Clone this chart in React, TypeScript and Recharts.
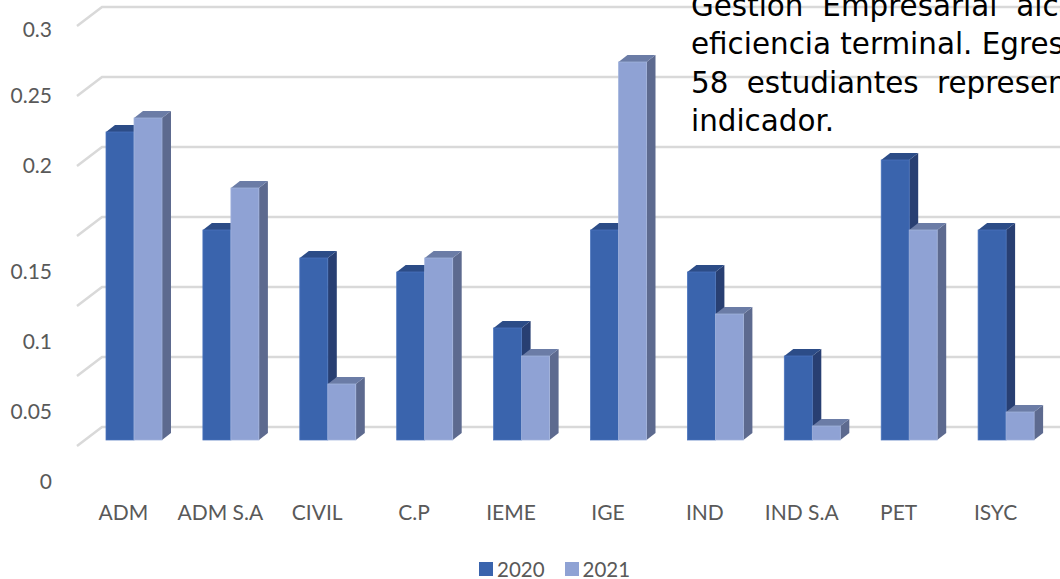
import React from "react";
import { BarChart, Bar, XAxis, YAxis, CartesianGrid, Legend } from "recharts";

const categories = ["ADM", "ADM S.A", "CIVIL", "C.P", "IEME", "IGE", "IND", "IND S.A", "PET", "ISYC"];
const values2020 = [0.22, 0.15, 0.13, 0.12, 0.08, 0.15, 0.12, 0.06, 0.2, 0.15];
const values2021 = [0.23, 0.18, 0.04, 0.13, 0.06, 0.27, 0.09, 0.01, 0.15, 0.02];
const yTicks = [0, 0.05, 0.1, 0.15, 0.2, 0.25, 0.3];
const paragraphLines = [
  "Gestión Empresarial alca",
  "eficiencia terminal. Egres",
  "58 estudiantes represen",
  "indicador.",
];

const chartData = categories.map((name, i) => ({ name, y2020: values2020[i], y2021: values2021[i] }));

const FONT = "Lato, sans-serif";
const LABEL = "#595959";
const DEPTH_X = 9;
const DEPTH_Y = 7;
const FRONT_SHIFT = 13;

const tone2020 = { front: "#3A64AD", side: "#283F72", top: "#2C4C87", edge: "#4A74BD" };
const tone2021 = { front: "#8FA2D4", side: "#5D6A8F", top: "#6B7CA6", edge: "#A3B4DD" };

const makeShape = (tone: { front: string; side: string; top: string; edge: string }) => (props: any) => {
  const { x, y, width, height } = props;
  if (!(height > 0)) return <g />;
  const t = y + FRONT_SHIFT;
  const b = t + height;
  const r = x + width;
  return (
    <g>
      <polygon points={`${r},${t} ${r + DEPTH_X},${t - DEPTH_Y} ${r + DEPTH_X},${b - DEPTH_Y} ${r},${b}`} fill={tone.side} />
      <polygon points={`${x},${t} ${x + DEPTH_X},${t - DEPTH_Y} ${r + DEPTH_X},${t - DEPTH_Y} ${r},${t}`} fill={tone.top} />
      <rect x={x} y={t} width={width} height={height} fill={tone.front} stroke={tone.edge} strokeWidth={0.75} />
    </g>
  );
};

const gridLine = (p: any) => (
  <polyline
    key={p.key}
    points={`77,${p.y1 + 19} 102,${p.y1} 1060,${p.y1}`}
    fill="none"
    stroke="#D9D9D9"
    strokeWidth={2.5}
  />
);

const yLabelShift = (i: number) => (i < 4 ? 53 : i < 6 ? 17 : 19);

const YTick = (p: any) => (
  <text
    x={52}
    y={p.y + yLabelShift(p.index)}
    textAnchor="end"
    dominantBaseline="central"
    fontFamily={FONT}
    fontSize={21}
    fill={LABEL}
  >
    {p.payload.value}
  </text>
);

const XTick = (p: any) => (
  <text
    x={p.x - 11}
    y={p.y + 76}
    textAnchor="middle"
    dominantBaseline="central"
    fontFamily={FONT}
    fontSize={21}
    fill={LABEL}
  >
    {p.payload.value}
  </text>
);

const legendContent = (p: any) => (
  <div style={{ display: "flex", alignItems: "center", fontFamily: FONT, fontSize: 20.5, color: LABEL, lineHeight: "20px" }}>
    {p.payload.map((e: any, i: number) => (
      <span key={e.value} style={{ display: "flex", alignItems: "center", marginRight: i === 0 ? 20 : 0 }}>
        <span style={{ width: 14, height: 14, background: e.color, marginRight: 4 }} />
        {e.value}
      </span>
    ))}
  </div>
);

const lineBase: React.CSSProperties = {
  position: "absolute",
  left: 691,
  whiteSpace: "nowrap",
  fontFamily: "'DejaVu Sans', sans-serif",
  fontSize: 29.4,
  lineHeight: "38px",
  color: "#000",
};
const lineTops = [-13, 25, 64, 102];
const lineSpacing = [9.5, 0, 9, 0];

export default function App() {
  return (
    <div style={{ position: "absolute", left: 0, top: 0, width: 1060, height: 579, overflow: "hidden", background: "#fff" }}>
      <BarChart
        width={1060}
        height={579}
        data={chartData}
        margin={{ top: 7, right: 5, bottom: 0, left: 0 }}
        barSize={28}
        barGap={0}
      >
        <CartesianGrid vertical={false} horizontal={gridLine} />
        <XAxis dataKey="name" height={152} axisLine={false} tickLine={false} tick={XTick} interval={0} />
        <YAxis width={86} domain={[0, 0.3]} ticks={yTicks} axisLine={false} tickLine={false} tick={YTick} />
        <Legend
          verticalAlign="middle"
          content={legendContent}
          wrapperStyle={{ position: "absolute", left: 479, top: 559, width: 170, height: 20 }}
        />
        <Bar dataKey="y2020" name="2020" fill={tone2020.front} shape={makeShape(tone2020)} isAnimationActive={false} />
        <Bar dataKey="y2021" name="2021" fill={tone2021.front} shape={makeShape(tone2021)} isAnimationActive={false} />
      </BarChart>
      {paragraphLines.map((line, i) => (
        <div key={line} style={{ ...lineBase, top: lineTops[i], wordSpacing: lineSpacing[i] }}>
          {line}
        </div>
      ))}
    </div>
  );
}
